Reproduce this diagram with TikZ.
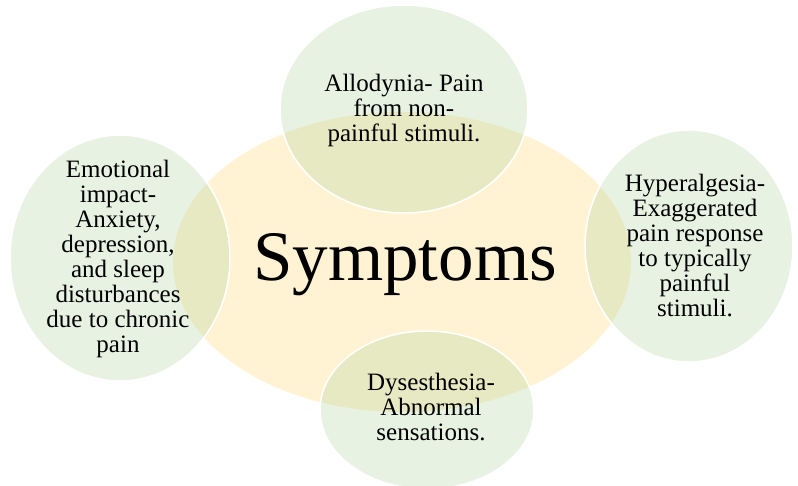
\documentclass[tikz,border=0pt]{standalone}
\usepackage{fontspec}
\setmainfont{Liberation Serif}
\usetikzlibrary{shapes.geometric}
\definecolor{hubfill}{RGB}{255,243,212}
\definecolor{petalfill}{RGB}{178,212,158}
\begin{document}
\begin{tikzpicture}[x=1pt, y=-1pt,
		petal/.style={fill=petalfill, fill opacity=0.3, draw=white, line width=1.5pt},
		petaltext/.style={align=center, inner sep=0pt, text=black, font=\fontsize{25}{25}\selectfont}]
		\useasboundingbox (0,0) rectangle (798,486);
		
		% Centre
		\fill[hubfill] (402,262) ellipse [x radius=229, y radius=150];
		\node[inner sep=0pt, font=\fontsize{71}{71}\selectfont] (hub) at (405,265) {Symptoms};
		
		% Circles round the centre
		\path[petal] (404,109) ellipse [x radius=124, y radius=104];
		\path[petal] (120,258) ellipse [x radius=110, y radius=123];
		\path[petal] (689,246) ellipse [x radius=104, y radius=116];
		\path[petal] (427,410) ellipse [x radius=107, y radius=79];
		
		% Texts
		\node[petaltext] (allo) at (404,110) {Allodynia- Pain\\from non-\\painful stimuli.};
		\node[petaltext] (emo) at (118,259) {Emotional\\impact-\\Anxiety,\\depression,\\and sleep\\disturbances\\due to chronic\\pain};
		\node[petaltext] (hyper) at (695,246) {Hyperalgesia-\\Exaggerated\\pain response\\to typically\\painful\\stimuli.};
		\node[petaltext] (dys) at (431,407) {Dysesthesia-\\Abnormal\\sensations.};
	\end{tikzpicture}
\end{document}
